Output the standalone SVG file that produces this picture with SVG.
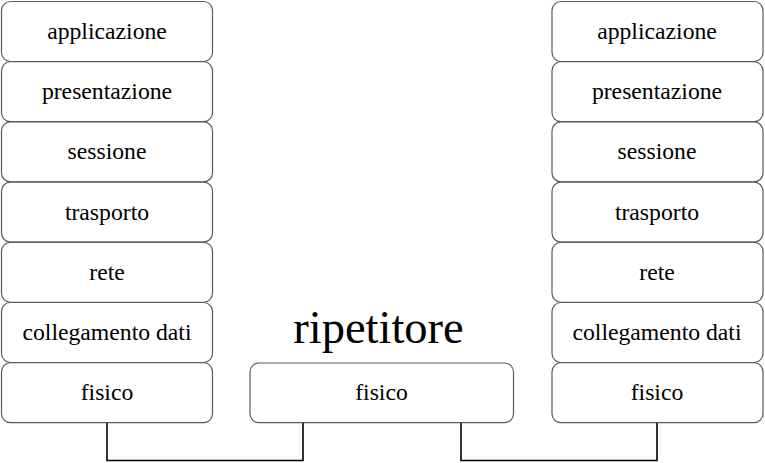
<svg xmlns="http://www.w3.org/2000/svg" width="765" height="463" viewBox="0 0 765 463" font-family="'Liberation Serif', 'Times New Roman', serif">
<style>
.b{fill:#fff;stroke:#5a5a5a;stroke-width:1.2}
text{font-family:'Liberation Serif','Times New Roman',serif;fill:#000;text-anchor:middle}
.t{font-size:23.7px}
.big{font-size:46.5px}
.c{fill:none;stroke:#000;stroke-width:1.6}
</style>
<rect width="765" height="463" fill="#fff"/>
<g id="left">
<g id="l1"><rect class="b" x="1.5" y="1.5" width="211" height="60" rx="9"/><text class="t" x="107" y="39">applicazione</text></g>
<g id="l2"><rect class="b" x="1.5" y="61.7" width="211" height="60" rx="9"/><text class="t" x="107" y="99">presentazione</text></g>
<g id="l3"><rect class="b" x="1.5" y="121.9" width="211" height="60" rx="9"/><text class="t" x="107" y="159">sessione</text></g>
<g id="l4"><rect class="b" x="1.5" y="182.1" width="211" height="60" rx="9"/><text class="t" x="107" y="220">trasporto</text></g>
<g id="l5"><rect class="b" x="1.5" y="242.3" width="211" height="60" rx="9"/><text class="t" x="107" y="280">rete</text></g>
<g id="l6"><rect class="b" x="1.5" y="302.5" width="211" height="60" rx="9"/><text class="t" x="107" y="340">collegamento dati</text></g>
<g id="l7"><rect class="b" x="1.5" y="362.7" width="211" height="60" rx="9"/><text class="t" x="107" y="400">fisico</text></g>
</g>
<g id="right">
<g id="r1"><rect class="b" x="552" y="1.5" width="211" height="60" rx="9"/><text class="t" x="657" y="39">applicazione</text></g>
<g id="r2"><rect class="b" x="552" y="61.7" width="211" height="60" rx="9"/><text class="t" x="657" y="99">presentazione</text></g>
<g id="r3"><rect class="b" x="552" y="121.9" width="211" height="60" rx="9"/><text class="t" x="657" y="159">sessione</text></g>
<g id="r4"><rect class="b" x="552" y="182.1" width="211" height="60" rx="9"/><text class="t" x="657" y="220">trasporto</text></g>
<g id="r5"><rect class="b" x="552" y="242.3" width="211" height="60" rx="9"/><text class="t" x="657" y="280">rete</text></g>
<g id="r6"><rect class="b" x="552" y="302.5" width="211" height="60" rx="9"/><text class="t" x="657" y="340">collegamento dati</text></g>
<g id="r7"><rect class="b" x="552" y="362.7" width="211" height="60" rx="9"/><text class="t" x="657" y="400">fisico</text></g>
</g>
<g id="repeater">
<text class="big" x="378.5" y="343">ripetitore</text>
<rect class="b" x="250" y="363" width="263.5" height="59.7" rx="9"/>
<text class="t" x="381.5" y="400">fisico</text>
</g>
<g id="connectors">
<path class="c" d="M107 423 V460.5 H303 V423"/>
<path class="c" d="M461 423 V460.5 H657 V423"/>
</g>
</svg>
